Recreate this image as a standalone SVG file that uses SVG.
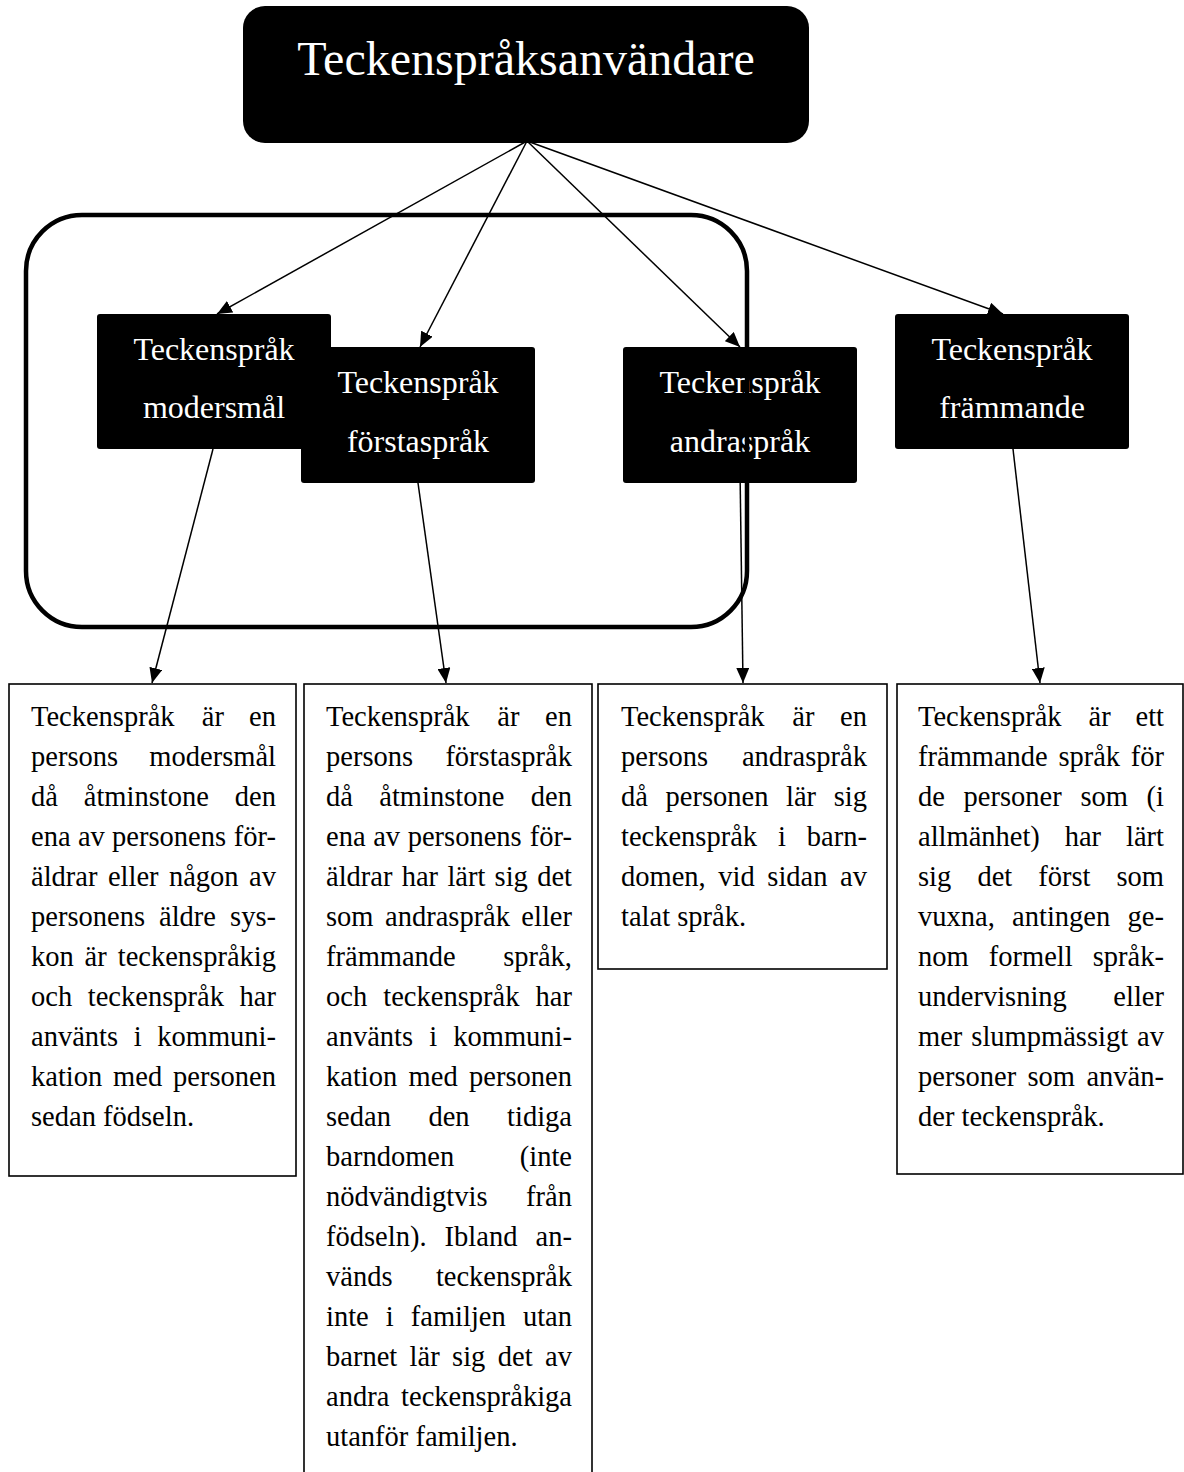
<svg xmlns="http://www.w3.org/2000/svg" width="1184" height="1472" viewBox="0 0 1184 1472">
<style>
.t{font-family:"Liberation Serif","Times New Roman",serif;font-size:28.5px;fill:#000}
.e{text-anchor:end}
.nt{font-family:"Liberation Serif","Times New Roman",serif;font-size:32px;fill:#fff;text-anchor:middle}
.ti{font-family:"Liberation Serif","Times New Roman",serif;font-size:48px;fill:#fff;text-anchor:middle}
.nb{fill:#000}
.tb{fill:#fff;stroke:#000;stroke-width:1.6}
.c{stroke:#000;stroke-width:1.5;fill:none;marker-end:url(#ah)}
</style>
<defs>
<marker id="ah" markerUnits="userSpaceOnUse" markerWidth="16" markerHeight="13" refX="15" refY="6.5" orient="auto">
<path d="M0,0 L15,6.5 L0,13 z" fill="#000"/>
</marker>
</defs>
<rect width="1184" height="1472" fill="#fff"/>

<g id="connectors">
<line class="c" x1="527" y1="141" x2="217" y2="314"/>
<line class="c" x1="527" y1="141" x2="420" y2="347"/>
<line class="c" x1="527" y1="141" x2="740" y2="347"/>
<line class="c" x1="527" y1="141" x2="1003" y2="314"/>
<line class="c" x1="213" y1="449" x2="152" y2="683"/>
<line class="c" x1="418" y1="483" x2="446" y2="683"/>
<line class="c" x1="740" y1="470" x2="743" y2="683"/>
<line class="c" x1="1013" y1="449" x2="1040" y2="683"/>
</g>

<g id="title">
<rect x="243" y="6" width="566" height="137" rx="22" class="nb"/>
<text class="ti" x="526" y="75">Teckenspråksanvändare</text>
</g>

<g id="node-modersmal">
<rect x="97" y="314" width="234" height="135" rx="3" class="nb"/>
<text class="nt" x="214" y="360">Teckenspråk</text>
<text class="nt" x="214" y="418">modersmål</text>
</g>
<g id="node-forstasprak">
<rect x="301" y="347" width="234" height="136" rx="3" class="nb"/>
<text class="nt" x="418" y="393">Teckenspråk</text>
<text class="nt" x="418" y="452">förstaspråk</text>
</g>
<g id="node-andrasprak">
<rect x="623" y="347" width="234" height="136" rx="3" class="nb"/>
<text class="nt" x="740" y="393">Teckenspråk</text>
<text class="nt" x="740" y="452">andraspråk</text>
</g>
<g id="node-frammande">
<rect x="895" y="314" width="234" height="135" rx="3" class="nb"/>
<text class="nt" x="1012" y="360">Teckenspråk</text>
<text class="nt" x="1012" y="418">främmande</text>
</g>

<g id="group-frame">
<rect x="26" y="215" width="721" height="412" rx="56" fill="none" stroke="#000" stroke-width="4.5"/>
</g>

<g id="desc-modersmal">
<rect class="tb" x="9" y="684" width="287" height="492"/>
<text class="t" y="726"><tspan x="31">Teckenspråk</tspan><tspan x="201.8">är</tspan></text><text class="t e" x="276" y="726">en</text>
<text class="t" y="766"><tspan x="31">persons</tspan></text><text class="t e" x="276" y="766">modersmål</text>
<text class="t" y="806"><tspan x="31">då</tspan><tspan x="83.8">åtminstone</tspan></text><text class="t e" x="276" y="806">den</text>
<text class="t" y="846"><tspan x="31">ena</tspan><tspan x="77.9">av</tspan><tspan x="112.1">personens</tspan></text><text class="t e" x="276" y="846">för-</text>
<text class="t" y="886"><tspan x="31">äldrar</tspan><tspan x="107.9">eller</tspan><tspan x="168.9">någon</tspan></text><text class="t e" x="276" y="886">av</text>
<text class="t" y="926"><tspan x="31">personens</tspan><tspan x="159">äldre</tspan></text><text class="t e" x="276" y="926">sys-</text>
<text class="t" y="966"><tspan x="31">kon</tspan><tspan x="84.6">är</tspan></text><text class="t e" x="276" y="966">teckenspråkig</text>
<text class="t" y="1006"><tspan x="31">och</tspan><tspan x="87.8">teckenspråk</tspan></text><text class="t e" x="276" y="1006">har</text>
<text class="t" y="1046"><tspan x="31">använts</tspan><tspan x="133.7">i</tspan></text><text class="t e" x="276" y="1046">kommuni-</text>
<text class="t" y="1086"><tspan x="31">kation</tspan><tspan x="113.1">med</tspan></text><text class="t e" x="276" y="1086">personen</text>
<text class="t" x="31" y="1126">sedan födseln.</text>
</g>

<g id="desc-forstasprak">
<rect class="tb" x="304" y="684" width="288" height="800"/>
<text class="t" y="726"><tspan x="326">Teckenspråk</tspan><tspan x="497.3">är</tspan></text><text class="t e" x="572" y="726">en</text>
<text class="t" y="766"><tspan x="326">persons</tspan></text><text class="t e" x="572" y="766">förstaspråk</text>
<text class="t" y="806"><tspan x="326">då</tspan><tspan x="379.3">åtminstone</tspan></text><text class="t e" x="572" y="806">den</text>
<text class="t" y="846"><tspan x="326">ena</tspan><tspan x="373.2">av</tspan><tspan x="407.7">personens</tspan></text><text class="t e" x="572" y="846">för-</text>
<text class="t" y="886"><tspan x="326">äldrar</tspan><tspan x="401.7">har</tspan><tspan x="447.4">lärt</tspan><tspan x="494.6">sig</tspan></text><text class="t e" x="572" y="886">det</text>
<text class="t" y="926"><tspan x="326">som</tspan><tspan x="385">andraspråk</tspan></text><text class="t e" x="572" y="926">eller</text>
<text class="t" y="966"><tspan x="326">främmande</tspan></text><text class="t e" x="572" y="966">språk,</text>
<text class="t" y="1006"><tspan x="326">och</tspan><tspan x="383.3">teckenspråk</tspan></text><text class="t e" x="572" y="1006">har</text>
<text class="t" y="1046"><tspan x="326">använts</tspan><tspan x="429.2">i</tspan></text><text class="t e" x="572" y="1046">kommuni-</text>
<text class="t" y="1086"><tspan x="326">kation</tspan><tspan x="408.6">med</tspan></text><text class="t e" x="572" y="1086">personen</text>
<text class="t" y="1126"><tspan x="326">sedan</tspan><tspan x="428.4">den</tspan></text><text class="t e" x="572" y="1126">tidiga</text>
<text class="t" y="1166"><tspan x="326">barndomen</tspan></text><text class="t e" x="572" y="1166">(inte</text>
<text class="t" y="1206"><tspan x="326">nödvändigtvis</tspan></text><text class="t e" x="572" y="1206">från</text>
<text class="t" y="1246"><tspan x="326">födseln).</tspan><tspan x="444.6">Ibland</tspan></text><text class="t e" x="572" y="1246">an-</text>
<text class="t" y="1286"><tspan x="326">vänds</tspan></text><text class="t e" x="572" y="1286">teckenspråk</text>
<text class="t" y="1326"><tspan x="326">inte</tspan><tspan x="385.8">i</tspan><tspan x="410.8">familjen</tspan></text><text class="t e" x="572" y="1326">utan</text>
<text class="t" y="1366"><tspan x="326">barnet</tspan><tspan x="409.6">lär</tspan><tspan x="452.1">sig</tspan><tspan x="497.8">det</tspan></text><text class="t e" x="572" y="1366">av</text>
<text class="t" y="1406"><tspan x="326">andra</tspan></text><text class="t e" x="572" y="1406">teckenspråkiga</text>
<text class="t" x="326" y="1446">utanför familjen.</text>
</g>

<g id="desc-andrasprak">
<rect class="tb" x="598" y="684" width="289" height="285"/>
<text class="t" y="726"><tspan x="621">Teckenspråk</tspan><tspan x="792.3">är</tspan></text><text class="t e" x="867" y="726">en</text>
<text class="t" y="766"><tspan x="621">persons</tspan></text><text class="t e" x="867" y="766">andraspråk</text>
<text class="t" y="806"><tspan x="621">då</tspan><tspan x="665.5">personen</tspan><tspan x="786">lär</tspan></text><text class="t e" x="867" y="806">sig</text>
<text class="t" y="846"><tspan x="621">teckenspråk</tspan><tspan x="778">i</tspan></text><text class="t e" x="867" y="846">barn-</text>
<text class="t" y="886"><tspan x="621">domen,</tspan><tspan x="718.3">vid</tspan><tspan x="767.3">sidan</tspan></text><text class="t e" x="867" y="886">av</text>
<text class="t" x="621" y="926">talat språk.</text>
</g>

<g id="desc-frammande">
<rect class="tb" x="897" y="684" width="286" height="490"/>
<text class="t" y="726"><tspan x="918">Teckenspråk</tspan><tspan x="1088.5">är</tspan></text><text class="t e" x="1164" y="726">ett</text>
<text class="t" y="766"><tspan x="918">främmande</tspan><tspan x="1058.4">språk</tspan></text><text class="t e" x="1164" y="766">för</text>
<text class="t" y="806"><tspan x="918">de</tspan><tspan x="963.6">personer</tspan><tspan x="1080.4">som</tspan></text><text class="t e" x="1164" y="806">(i</text>
<text class="t" y="846"><tspan x="918">allmänhet)</tspan><tspan x="1064.7">har</tspan></text><text class="t e" x="1164" y="846">lärt</text>
<text class="t" y="886"><tspan x="918">sig</tspan><tspan x="977.4">det</tspan><tspan x="1038.3">först</tspan></text><text class="t e" x="1164" y="886">som</text>
<text class="t" y="926"><tspan x="918">vuxna,</tspan><tspan x="1012.1">antingen</tspan></text><text class="t e" x="1164" y="926">ge-</text>
<text class="t" y="966"><tspan x="918">nom</tspan><tspan x="988.8">formell</tspan></text><text class="t e" x="1164" y="966">språk-</text>
<text class="t" y="1006"><tspan x="918">undervisning</tspan></text><text class="t e" x="1164" y="1006">eller</text>
<text class="t" y="1046"><tspan x="918">mer</tspan><tspan x="971.3">slumpmässigt</tspan></text><text class="t e" x="1164" y="1046">av</text>
<text class="t" y="1086"><tspan x="918">personer</tspan><tspan x="1027.5">som</tspan></text><text class="t e" x="1164" y="1086">använ-</text>
<text class="t" x="918" y="1126">der teckenspråk.</text>
</g>
</svg>
